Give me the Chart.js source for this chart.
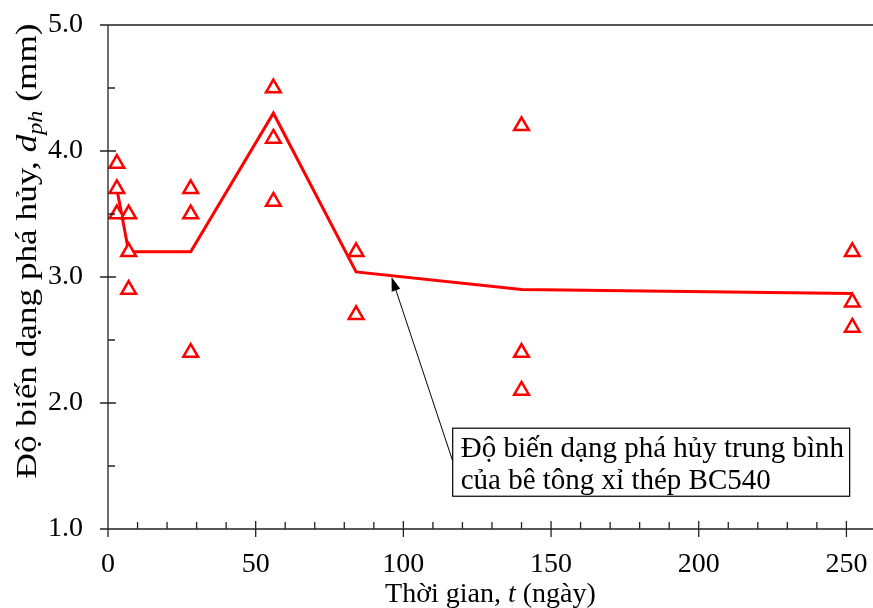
<!DOCTYPE html>
<html>
<head>
<meta charset="utf-8">
<script src="https://cdn.jsdelivr.net/npm/chart.js@4/dist/chart.umd.min.js"></script>
<style>
  body { margin: 0; background: #fff; }
  #wrap { width: 873px; height: 608px; }
</style>
</head>
<body>
<div id="wrap"><canvas id="chart_deform" width="873" height="608"></canvas></div>
<script>
// days of testing
const days = [3, 7, 28, 56, 84, 140, 252];
// individual specimens (null = no specimen)
const specimen1 = [3.9, 3.5, 3.7, 4.5, 3.2, 4.2, 3.2];
const specimen2 = [3.7, 3.2, 3.5, 4.1, 2.7, 2.4, 2.8];
const specimen3 = [3.5, 2.9, 2.4, 3.6, null, 2.1, 2.6];
// average curve
const meanValues = [3.7, 3.2, 3.2, 4.3, 3.04, 2.9, 2.87];

const xTicks = [0, 50, 100, 150, 200, 250];
const yTicks = [1, 2, 3, 4, 5];

const noteLines = ["Độ biến dạng phá hủy trung bình", "của bê tông xỉ thép BC540"];
const noteArrowTip = { x: 96, y: 3.0 };

const serif = '"Liberation Serif", "Times New Roman", serif';
const red = '#ff0000';
const axisColor = '#222';

let points = [];
for (let i = 0; i < days.length; i++) {
  [specimen1, specimen2, specimen3].forEach(s => {
    if (s[i] != null) points.push({ x: days[i], y: s[i] });
  });
}
let meanPoints = days.map((d, i) => ({ x: d, y: meanValues[i] }));

// draws axes, minor ticks, titles and the note box
const decorations = {
  id: 'decorations',
  afterDraw(chart) {
    const ctx = chart.ctx;
    const xs = chart.scales.x;
    const ys = chart.scales.y;
    const area = chart.chartArea;
    const right = chart.width;
    ctx.save();
    ctx.strokeStyle = axisColor;
    ctx.lineWidth = 1.3;
    ctx.beginPath();
    ctx.moveTo(area.left, area.top);
    ctx.lineTo(area.left, area.bottom);
    ctx.lineTo(right, area.bottom);
    ctx.moveTo(area.left, area.top);
    ctx.lineTo(right, area.top);
    yTicks.forEach(v => {
      let py = ys.getPixelForValue(v);
      ctx.moveTo(area.left - 8, py);
      ctx.lineTo(area.left + 8, py);
    });
    for (let v = 1.5; v < 5; v += 1) {
      let py = ys.getPixelForValue(v);
      ctx.moveTo(area.left, py);
      ctx.lineTo(area.left + 7, py);
    }
    xTicks.forEach(v => {
      let px = xs.getPixelForValue(v);
      ctx.moveTo(px, area.bottom - 8);
      ctx.lineTo(px, area.bottom + 8);
    });
    for (let v = 10; v < xs.max; v += 10) {
      if (v % 50 === 0) continue;
      let px = xs.getPixelForValue(v);
      ctx.moveTo(px, area.bottom);
      ctx.lineTo(px, area.bottom - 7);
    }
    ctx.stroke();

    // x title
    ctx.fillStyle = '#000';
    ctx.textBaseline = 'alphabetic';
    ctx.textAlign = 'left';
    const xParts = [
      { t: 'Thời gian, ', f: '28px ' + serif },
      { t: 't', f: 'italic 28px ' + serif },
      { t: ' (ngày)', f: '28px ' + serif }
    ];
    let w = 0;
    xParts.forEach(p => { ctx.font = p.f; w += ctx.measureText(p.t).width; });
    let cx = (area.left + right) / 2 - w / 2;
    xParts.forEach(p => {
      ctx.font = p.f;
      ctx.fillText(p.t, cx, 602);
      cx += ctx.measureText(p.t).width;
    });

    // y title (rotated, stretched along its length like the original)
    const yParts = [
      { t: 'Độ biến dạng phá hủy, ', f: '29px ' + serif, dy: 0 },
      { t: 'd', f: 'italic 29px ' + serif, dy: 0 },
      { t: 'ph', f: 'italic 20px ' + serif, dy: 6 },
      { t: ' (mm)', f: '29px ' + serif, dy: 0 }
    ];
    w = 0;
    yParts.forEach(p => { ctx.font = p.f; w += ctx.measureText(p.t).width; });
    const stretch = 455 / w;
    ctx.save();
    ctx.translate(36, 251);
    ctx.rotate(-Math.PI / 2);
    ctx.scale(stretch, 1);
    let ty = -w / 2;
    yParts.forEach(p => {
      ctx.font = p.f;
      ctx.fillText(p.t, ty, p.dy);
      ty += ctx.measureText(p.t).width;
    });
    ctx.restore();

    // note box
    const bx0 = xs.getPixelForValue(116.7);
    const bx1 = xs.getPixelForValue(251.1);
    const by0 = ys.getPixelForValue(1.8);
    const by1 = ys.getPixelForValue(1.26);
    ctx.fillStyle = '#fff';
    ctx.fillRect(bx0, by0, bx1 - bx0, by1 - by0);
    ctx.strokeStyle = '#000';
    ctx.lineWidth = 1.2;
    ctx.strokeRect(bx0, by0, bx1 - bx0, by1 - by0);
    ctx.fillStyle = '#000';
    ctx.font = '29px ' + serif;
    ctx.fillText(noteLines[0], bx0 + 8, by0 + 29);
    ctx.fillText(noteLines[1], bx0 + 8, by0 + 61);

    // arrow
    const ax0 = xs.getPixelForValue(116.6);
    const ay0 = ys.getPixelForValue(1.547);
    const ax1 = xs.getPixelForValue(noteArrowTip.x);
    const ay1 = ys.getPixelForValue(noteArrowTip.y);
    const ang = Math.atan2(ay1 - ay0, ax1 - ax0);
    const headLen = 14;
    ctx.lineWidth = 1;
    ctx.beginPath();
    ctx.moveTo(ax0, ay0);
    ctx.lineTo(ax1 - Math.cos(ang) * headLen * 0.8, ay1 - Math.sin(ang) * headLen * 0.8);
    ctx.stroke();
    ctx.beginPath();
    ctx.moveTo(ax1, ay1);
    ctx.lineTo(ax1 - headLen * Math.cos(ang) + 4.5 * Math.sin(ang), ay1 - headLen * Math.sin(ang) - 4.5 * Math.cos(ang));
    ctx.lineTo(ax1 - headLen * Math.cos(ang) - 4.5 * Math.sin(ang), ay1 - headLen * Math.sin(ang) + 4.5 * Math.cos(ang));
    ctx.closePath();
    ctx.fill();
    ctx.restore();
  }
};

new Chart(document.getElementById('chart_deform'), {
  type: 'scatter',
  data: {
    datasets: [
      {
        data: points,
        pointStyle: 'triangle',
        pointRadius: 8.5,
        pointBorderWidth: 2.5,
        pointBorderColor: red,
        pointBackgroundColor: '#fff',
        order: 0
      },
      {
        type: 'line',
        data: meanPoints,
        showLine: true,
        borderColor: red,
        borderWidth: 3,
        pointRadius: 0,
        tension: 0,
        order: 1
      }
    ]
  },
  plugins: [decorations],
  options: {
    responsive: false,
    animation: false,
    devicePixelRatio: 1,
    layout: { autoPadding: false, padding: { top: 25, right: 0, left: 0, bottom: 0 } },
    plugins: {
      legend: { display: false },
      tooltip: { enabled: false }
    },
    scales: {
      x: {
        type: 'linear',
        min: 0,
        max: 259,
        afterFit: s => { s.height = 79; s.paddingLeft = 0; s.paddingRight = 0; },
        border: { display: false },
        grid: { display: false, drawTicks: false },
        ticks: {
          stepSize: 50,
          includeBounds: false,
          maxRotation: 0,
          padding: 19,
          color: '#000',
          font: { family: serif, size: 28 }
        }
      },
      y: {
        min: 1,
        max: 5,
        afterFit: s => { s.width = 108; s.paddingTop = 0; s.paddingBottom = 0; },
        border: { display: false },
        grid: { display: false, drawTicks: false },
        ticks: {
          stepSize: 1,
          padding: 25,
          color: '#000',
          font: { family: serif, size: 28 },
          callback: v => v.toFixed(1)
        }
      }
    }
  }
});
</script>
</body>
</html>
